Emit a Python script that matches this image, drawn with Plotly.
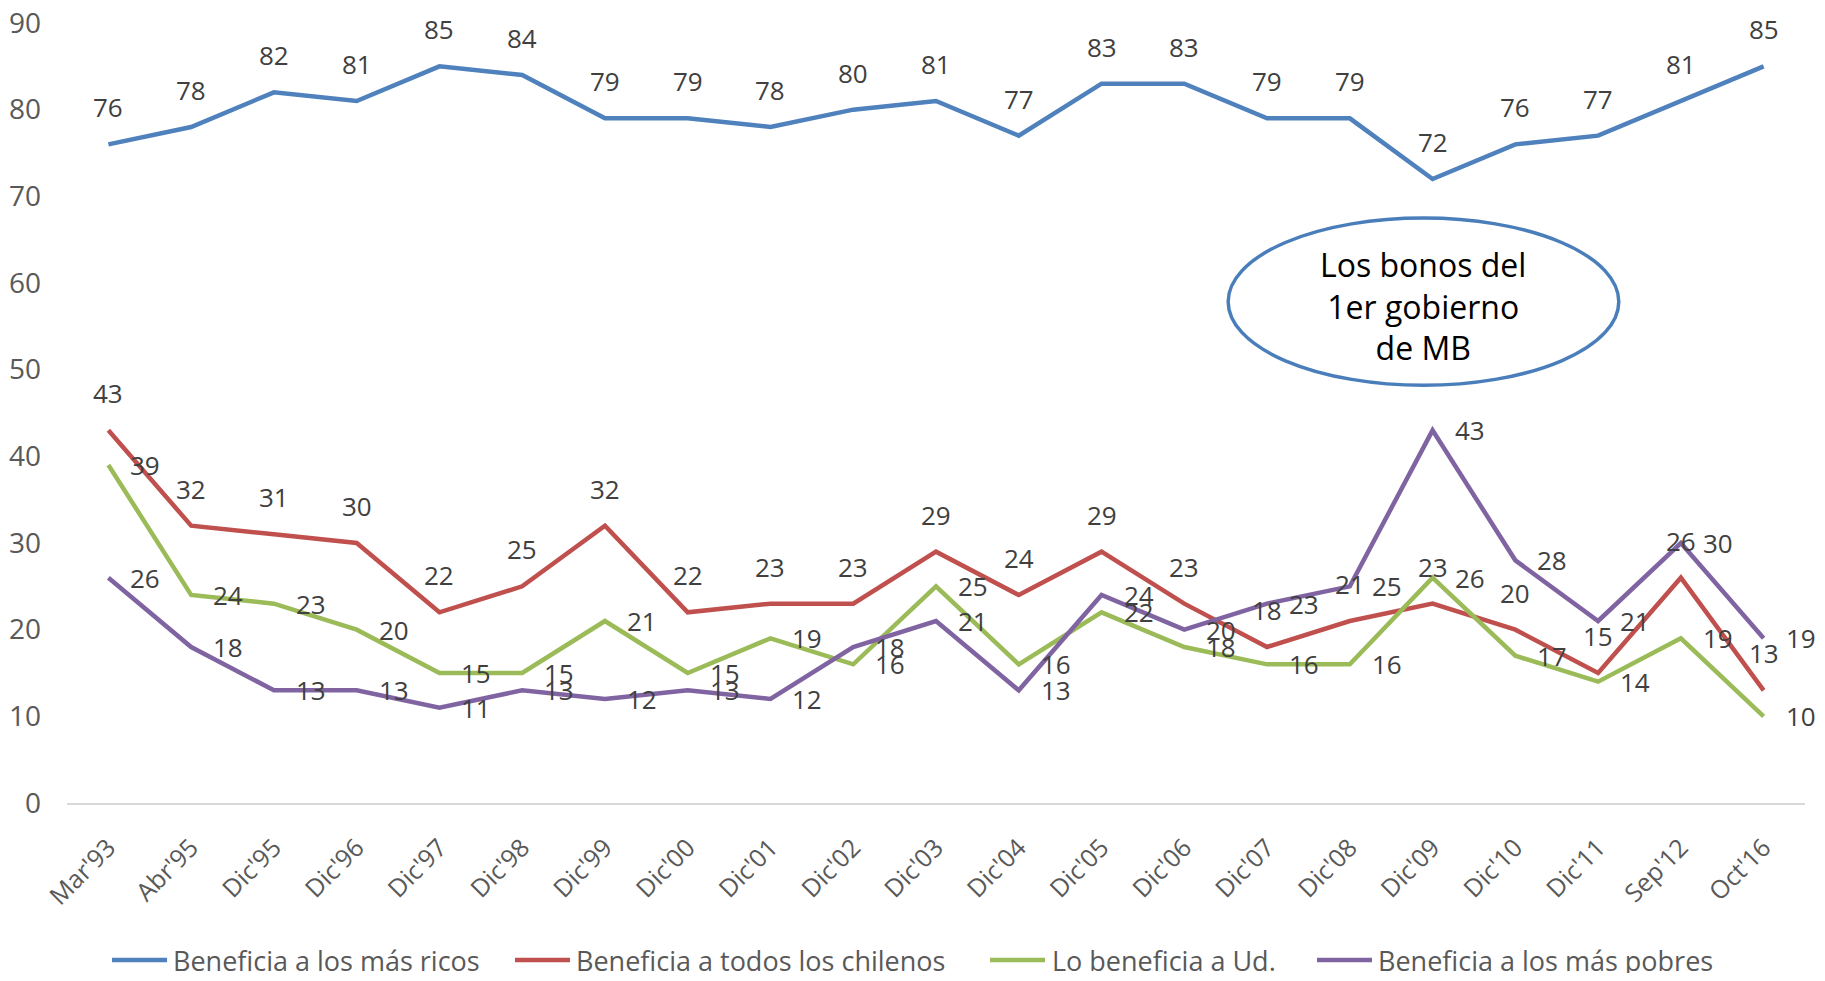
import plotly.graph_objects as go

categories = ["Mar'93", "Abr'95", "Dic'95", "Dic'96", "Dic'97", "Dic'98", "Dic'99", "Dic'00",
              "Dic'01", "Dic'02", "Dic'03", "Dic'04", "Dic'05", "Dic'06", "Dic'07", "Dic'08",
              "Dic'09", "Dic'10", "Dic'11", "Sep'12", "Oct'16"]

ricos = [76, 78, 82, 81, 85, 84, 79, 79, 78, 80, 81, 77, 83, 83, 79, 79, 72, 76, 77, 81, 85]
todos = [43, 32, 31, 30, 22, 25, 32, 22, 23, 23, 29, 24, 29, 23, 18, 21, 23, 20, 15, 26, 13]
usted = [39, 24, 23, 20, 15, 15, 21, 15, 19, 16, 25, 16, 22, 18, 16, 16, 26, 17, 14, 19, 10]
pobres = [26, 18, 13, 13, 11, 13, 12, 13, 12, 18, 21, 13, 24, 20, 23, 25, 43, 28, 21, 30, 19]

series_names = ["Beneficia a los más ricos", "Beneficia a todos los chilenos",
                "Lo beneficia a Ud.", "Beneficia a los más pobres"]
series_values = [ricos, todos, usted, pobres]
colors = ["#4F81BD", "#C0504D", "#9BBB59", "#8064A2"]
label_side = ["above", "above", "right", "right"]

FONT = "Open Sans"
TXT = "#404040"
AXT = "#595959"

# Figure geometry (page has an 8px body margin)
W, H = 1809, 965
L, R, T, B = 59, 12, 15, 170
PW, PH = W - L - R, H - T - B
OFF = 8


def paper_x(page_x):
    return (page_x - OFF - L) / PW


def paper_y(page_y):
    return (H - B + OFF - page_y) / PH


fig = go.Figure()
annotations = []
shapes = []
for name, vals, col, side in zip(series_names, series_values, colors, label_side):
    fig.add_trace(go.Scatter(x=categories, y=vals, mode="lines", name=name,
                             line=dict(color=col, width=4.5), showlegend=False))
    for c, v in zip(categories, vals):
        a = dict(x=c, y=v, text=str(v), showarrow=False,
                 font=dict(family=FONT, size=26, color=TXT))
        if side == "above":
            a["yshift"] = 37
        else:
            a["xshift"] = 37
        annotations.append(a)

# Callout ellipse
annotations.append(dict(x=15.89, y=57.4, text="Los bonos del<br>1er gobierno<br>de MB",
                        showarrow=False, font=dict(family=FONT, size=32, color="#000000")))
shapes.append(dict(type="circle", xref="x", yref="y", x0=13.53, x1=18.25, y0=48.2, y1=67.5,
                   line=dict(color="#4A7EBB", width=3.5), fillcolor="white", layer="below"))

# Manual legend (page-pixel layout of the reference)
legend_line_x = [(112, 167), (515, 570), (990, 1045), (1317, 1372)]
legend_text_x = [171, 574, 1050, 1376]
legend_y = 960
for name, col, (lx0, lx1), tx in zip(series_names, colors, legend_line_x, legend_text_x):
    shapes.append(dict(type="line", xref="paper", yref="paper",
                       x0=paper_x(lx0), x1=paper_x(lx1),
                       y0=paper_y(legend_y), y1=paper_y(legend_y),
                       line=dict(color=col, width=4.5)))
    annotations.append(dict(xref="paper", yref="paper", x=paper_x(tx), y=paper_y(legend_y),
                            xanchor="left", yanchor="middle", text=name, showarrow=False,
                            font=dict(family=FONT, size=27, color=AXT)))

fig.update_layout(
    width=W, height=H,
    margin=dict(l=L, r=R, t=T, b=B, autoexpand=False, pad=0),
    paper_bgcolor="white", plot_bgcolor="white",
    font=dict(family=FONT, color=AXT),
    annotations=annotations,
    shapes=shapes,
    showlegend=False,
)
fig.update_xaxes(type="category", range=[-0.5, len(categories) - 0.5], tickangle=-45,
                 showgrid=False, showline=True, linecolor="#D9D9D9", linewidth=2,
                 ticks="", automargin=False, ticklabelstandoff=18,
                 tickfont=dict(family=FONT, size=25, color=AXT), zeroline=False)
fig.update_yaxes(range=[0, 90], dtick=10, showgrid=False, zeroline=False, showline=False,
                 ticks="", ticklabelstandoff=25, automargin=False, ticklabeloverflow="allow",
                 tickfont=dict(family=FONT, size=28, color=AXT))

fig.write_html("out.html")
